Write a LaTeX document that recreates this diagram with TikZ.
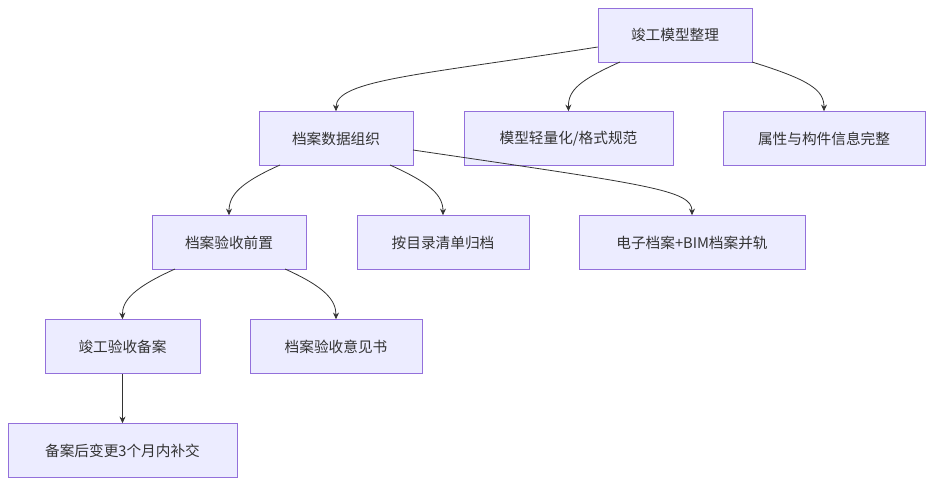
\documentclass[tikz,border=0pt]{standalone}
\usepackage{fontspec}
\setmainfont{Noto Sans CJK SC}
\usetikzlibrary{positioning, arrows.meta}
\definecolor{boxfill}{HTML}{ECECFF}
\definecolor{boxline}{HTML}{9370DB}
\definecolor{edgecol}{HTML}{333333}
\tikzset{
  box/.style={draw=boxline, fill=boxfill, minimum height=54*0.75pt, inner sep=0pt, font=\fontsize{11}{13}\selectfont, text=edgecol},
  edge/.style={draw=edgecol, -{Stealth[length=5pt,width=4.5pt]}, line width=0.6pt}
}
\begin{document}
\begin{tikzpicture}[x=0.75pt,y=-0.75pt]
  \useasboundingbox (0,0) rectangle (935,486);
  \node[box, minimum width=154*0.75pt] (root) at (675,35) {竣工模型整理};
  \node[box, minimum width=154*0.75pt] (org) at (336,138.5) {档案数据组织};
  \node[box, minimum width=209*0.75pt] (light) at (568.5,138.5) {模型轻量化/格式规范};
  \node[box, minimum width=202*0.75pt] (attr) at (824,138.5) {属性与构件信息完整};
  \node[box, minimum width=154*0.75pt] (pre) at (229,242.5) {档案验收前置};
  \node[box, minimum width=172*0.75pt] (list) at (443,242.5) {按目录清单归档};
  \node[box, minimum width=226*0.75pt] (merge) at (692,242.5) {电子档案+BIM档案并轨};
  \node[box, minimum width=155*0.75pt] (rec) at (122.5,346.5) {竣工验收备案};
  \node[box, minimum width=172*0.75pt] (op) at (336,346.5) {档案验收意见书};
  \node[box, minimum width=229*0.75pt] (late) at (122.5,450.5) {备案后变更3个月内补交};
  % edges
  \draw[edge] (root.west |- 0,47) .. controls (420,75) and (336,80) .. (org.north);
  \draw[edge] (620,62) .. controls (580,80) and (568,90) .. (light.north);
  \draw[edge] (752,62) .. controls (810,80) and (824,90) .. (attr.north);
  \draw[edge] (280,165) .. controls (240,183) and (229,195) .. (pre.north);
  \draw[edge] (390,165) .. controls (430,183) and (443,195) .. (list.north);
  \draw[edge] (413,150) .. controls (650,185) and (692,190) .. (merge.north);
  \draw[edge] (175,269) .. controls (135,287) and (122,300) .. (rec.north);
  \draw[edge] (285,269) .. controls (325,287) and (336,300) .. (op.north);
  \draw[edge] (rec) -- (late);
\end{tikzpicture}
\end{document}
